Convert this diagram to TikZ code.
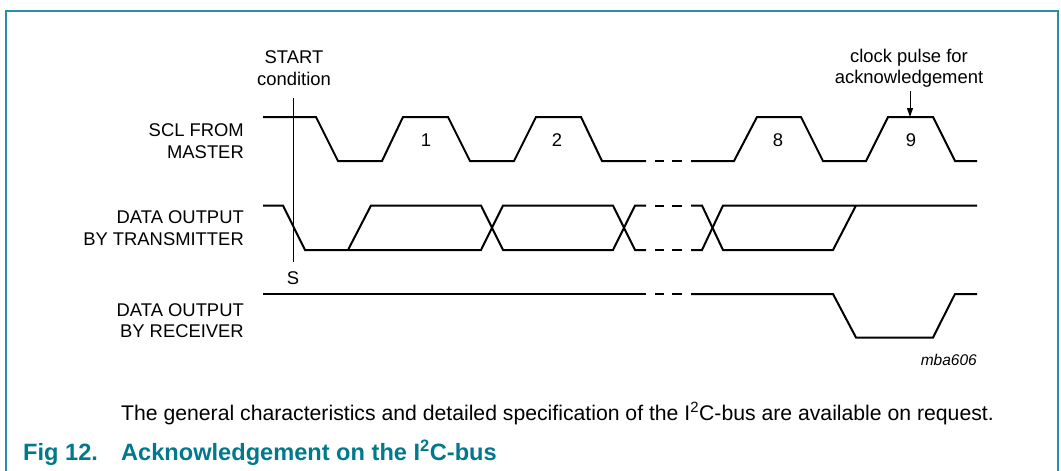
\documentclass[tikz,border=0pt]{standalone}
\usepackage{fontspec}
\setmainfont{Liberation Sans}
\usetikzlibrary{arrows.meta}
\definecolor{framecol}{RGB}{40,140,170}
\definecolor{capcol}{RGB}{0,121,140}
\tikzset{
  sig/.style={line width=2pt, line join=miter},
  lbl/.style={inner sep=0pt, font=\fontsize{18.4}{22}\selectfont},
  notelbl/.style={inner sep=0pt, font=\fontsize{21.2}{25}\selectfont},
  idlbl/.style={inner sep=0pt, font=\fontsize{15.5}{18}\selectfont\itshape},
  figcap/.style={inner sep=0pt, font=\fontsize{23.6}{27}\selectfont\bfseries, text=capcol},
}
\begin{document}
\begin{tikzpicture}[x=1pt,y=-1pt]
\useasboundingbox (0,0) rectangle (1061,471);
% frame
\draw[framecol, line width=1.3pt] (6,471) -- (6,11) -- (1058,11) -- (1058,471);

% labels
\node[lbl, anchor=base] (startA) at (294,63) {START};
\node[lbl, anchor=base] (startB) at (294,85) {condition};
\node[lbl, anchor=base] (ackA) at (909,62) {clock pulse for};
\node[lbl, anchor=base] (ackB) at (909,83.5) {acknowledgement};
\node[lbl, anchor=base east] (sclA) at (244,136) {SCL FROM};
\node[lbl, anchor=base east] (sclB) at (244,158) {MASTER};
\node[lbl, anchor=base east] (txA) at (244,223.5) {DATA OUTPUT};
\node[lbl, anchor=base east] (txB) at (244,245.5) {BY TRANSMITTER};
\node[lbl, anchor=base east] (rxA) at (244,316) {DATA OUTPUT};
\node[lbl, anchor=base east] (rxB) at (244,337.5) {BY RECEIVER};
\node[lbl, anchor=base] (s) at (293,284) {S};
\node[lbl, anchor=base] (n1) at (426,146.5) {1};
\node[lbl, anchor=base] (n2) at (557,146.5) {2};
\node[lbl, anchor=base] (n8) at (778,146.5) {8};
\node[lbl, anchor=base] (n9) at (911,146.5) {9};
\node[idlbl, anchor=base east] (id) at (977,365) {mba606};

% start condition line
\coordinate (stTop) at (293,98);
\coordinate (stBot) at (293,262);
\draw[line width=1pt] (stTop) -- (stBot);

% acknowledgement arrow
\coordinate (arTop) at (910,91);
\coordinate (arTip) at (910,117);
\draw[line width=1pt, -{Triangle[length=9pt,width=6pt]}] (arTop) -- (arTip);

% SCL
\draw[sig] (263,117) -- (316,117) -- (338,161) -- (382,161) -- (403,117) -- (448,117) -- (470,161)
  -- (514,161) -- (536,117) -- (581,117) -- (602,161) -- (646,161);
\draw[sig] (655,161) -- (663.5,161) (672,161) -- (682,161);
\draw[sig] (691,161) -- (734,161) -- (757,117) -- (801,117) -- (823,161) -- (866,161) -- (888,117)
  -- (933,117) -- (955,161) -- (977,161);

% data output by transmitter
\draw[sig] (263,205.5) -- (283,205.5) -- (305,250) -- (481,250) -- (503,205.5) -- (613,205.5) -- (635,250) -- (646,250);
\draw[sig] (348,250) -- (371,205.5) -- (481,205.5) -- (503,250) -- (613,250) -- (635,205.5) -- (646,205.5);
\draw[sig] (655,205.5) -- (663.5,205.5) (672,205.5) -- (682,205.5);
\draw[sig] (655,250) -- (663.5,250) (672,250) -- (682,250);
\draw[sig] (691,205.5) -- (702,205.5) -- (723,250) -- (833,250) -- (856,205.5);
\draw[sig] (691,250) -- (702,250) -- (723,205.5) -- (977,205.5);

% data output by receiver
\draw[sig] (263,294) -- (646,294);
\draw[sig] (655,294) -- (663.5,294) (672,294) -- (682,294);
\draw[sig] (691,294) -- (833,294) -- (856,337.5) -- (933,337.5) -- (955,294) -- (977,294);

% note and caption
\node[notelbl, anchor=base west] (note) at (121,420) {The general characteristics and detailed specification of the I\textsuperscript{2}C-bus are available on request.};
\node[figcap, anchor=base west] (figno) at (23,460.5) {Fig 12.};
\node[figcap, anchor=base west] (figtitle) at (121,460.5) {Acknowledgement on the I\textsuperscript{2}C-bus};
\end{tikzpicture}
\end{document}
